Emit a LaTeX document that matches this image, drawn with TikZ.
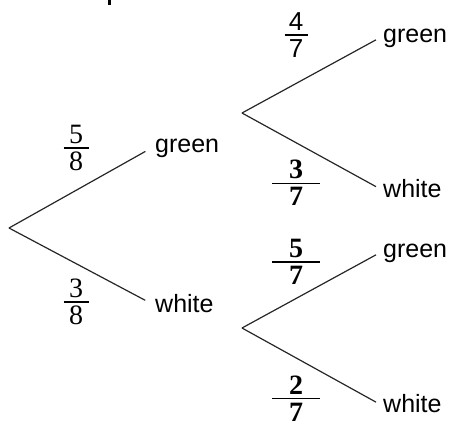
\documentclass[tikz,border=0pt]{standalone}
\usepackage{fontspec}
\setmainfont{Liberation Serif}
\newfontfamily\arialf{Liberation Sans}
\newcommand{\frc}[3]{\vbox{\hbox to #3{\hss #1\hss}\kern3.5pt\hrule height 1.3pt\kern3.5pt\hbox to #3{\hss #2\hss}}}
\begin{document}
\begin{tikzpicture}[x=1pt,y=-1pt,
  lbl/.style={inner sep=0pt,anchor=west,font=\arialf\fontsize{25}{30}\selectfont,text height=18pt,text depth=5pt},
  fracr/.style={inner sep=0pt,font=\fontsize{28}{32}\selectfont},
  fracb/.style={inner sep=0pt,font=\fontsize{28}{32}\selectfont\bfseries},
  fracs/.style={inner sep=0pt,font=\arialf\fontsize{26}{30}\selectfont},
  branch/.style={line width=1.2pt,black!85}]
\useasboundingbox (0,0) rectangle (449,426);
% cropped fragment at the top
\fill (108,0) rectangle (110.5,5);
% vertices
\coordinate (r) at (9,228);
\coordinate (a) at (242,113);
\coordinate (b) at (242,328);
% labels
\node[lbl] (g1) at (155,146) {green};
\node[lbl] (w1) at (155,305.5) {white};
\node[lbl] (g2) at (383,36) {green};
\node[lbl] (w2) at (383,190.5) {white};
\node[lbl] (g3) at (383,251) {green};
\node[lbl] (w3) at (383,406) {white};
% branches
\draw[branch,shorten >=11pt] (r) -- (g1.west);
\draw[branch,shorten >=11pt] (r) -- (w1.west);
\draw[branch,shorten >=8pt] (a) -- (g2.west);
\draw[branch,shorten >=8pt] (a) -- (w2.west);
\draw[branch,shorten >=8pt] (b) -- (g3.west);
\draw[branch,shorten >=8pt] (b) -- (w3.west);
% probabilities
\node[fracr] (f58) at (76,148) {\frc{5}{8}{25pt}};
\node[fracr] (f38) at (76,302) {\frc{3}{8}{25pt}};
\node[fracs] (f47) at (296,35) {\frc{4}{7}{23pt}};
\node[fracb] (f37) at (296,183) {\frc{3}{7}{48pt}};
\node[fracb] (f57) at (296,262) {\frc{5}{7}{48pt}};
\node[fracb] (f27) at (296,398.5) {\frc{2}{7}{48pt}};
\end{tikzpicture}
\end{document}
